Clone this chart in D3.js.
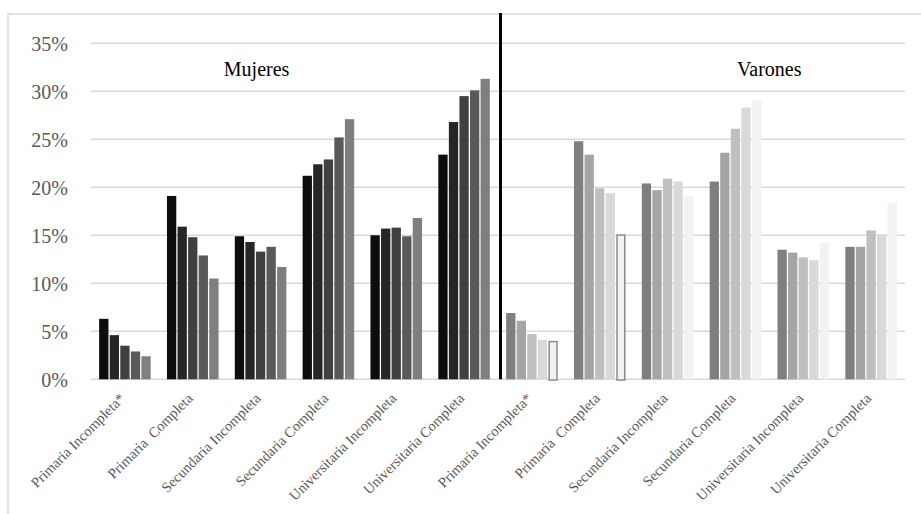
<!DOCTYPE html>
<html>
<head>
<meta charset="utf-8">
<script src="https://cdn.jsdelivr.net/npm/d3@7"></script>
<style>
  body { margin: 0; background: #fff; }
  svg { display: block; }
</style>
</head>
<body>
<div id="chart"></div>
<script>
// categories (shown once for each sex)
const levels = ["Primaria Incompleta*", "Primaria  Completa", "Secundaria Incompleta",
                "Secundaria Completa", "Universitaria Incompleta", "Universitaria Completa"];
const groups = ["Mujeres", "Varones"];
const series = ["s1", "s2", "s3", "s4", "s5"];

// percent values, one row per level, five series each
const mujeres = [
  [6.3, 4.6, 3.5, 2.9, 2.4],
  [19.1, 15.9, 14.8, 12.9, 10.5],
  [14.9, 14.3, 13.3, 13.8, 11.7],
  [21.2, 22.4, 22.9, 25.2, 27.1],
  [15.0, 15.7, 15.8, 14.9, 16.8],
  [23.4, 26.8, 29.5, 30.1, 31.3]
];
const varones = [
  [6.9, 6.1, 4.7, 4.1, 4.0],
  [24.8, 23.4, 19.9, 19.4, 15.1],
  [20.4, 19.7, 20.9, 20.6, 19.1],
  [20.6, 23.6, 26.1, 28.3, 29.1],
  [13.5, 13.2, 12.7, 12.4, 14.2],
  [13.8, 13.8, 15.5, 15.1, 18.4]
];
const yTicks = [0, 5, 10, 15, 20, 25, 30, 35];

// bars drawn with an outline (last series, Varones)
const outlinedLevels = ["Primaria Incompleta*", "Primaria  Completa"];

const colors = {
  Mujeres: ["#0d0d0d", "#262626", "#404040", "#595959", "#7f7f7f"],
  Varones: ["#7f7f7f", "#a5a5a5", "#bfbfbf", "#d9d9d9", "#f2f2f2"]
};

const FONT = '"Liberation Serif", "Times New Roman", serif';
const W = 921, H = 514;
const plot = {left: 91, right: 905, top: 43.3, bottom: 379.3};

// build the flat table
const cats = [];
groups.forEach(g => levels.forEach(l => cats.push(g + "|" + l)));
const rows = [];
groups.forEach(g => {
  const vals = g === "Mujeres" ? mujeres : varones;
  levels.forEach((l, i) => {
    series.forEach((s, j) => {
      rows.push({group: g, level: l, key: g + "|" + l, series: s, idx: j, value: vals[i][j]});
    });
  });
});

const svg = d3.select("#chart").append("svg")
    .attr("width", W)
    .attr("height", H);

// chart border (only top & left show in the window)
svg.append("rect")
    .attr("x", 8).attr("y", 14)
    .attr("width", W + 20).attr("height", H + 20)
    .attr("fill", "none")
    .attr("stroke", "#d9d9d9")
    .attr("stroke-width", 1.5);

const x0 = d3.scaleBand()
    .domain(cats)
    .range([plot.left, plot.right])
    .paddingInner(0.24)
    .paddingOuter(0.12);

const x1 = d3.scaleBand()
    .domain(series)
    .range([0, x0.bandwidth()])
    .paddingInner(0.12);

const y = d3.scaleLinear()
    .domain([0, 35])
    .range([plot.bottom, plot.top]);

// gridlines
svg.append("g")
    .selectAll("line")
    .data(yTicks)
  .enter().append("line")
    .attr("x1", plot.left)
    .attr("x2", plot.right)
    .attr("y1", d => y(d))
    .attr("y2", d => y(d))
    .attr("stroke", "#d9d9d9")
    .attr("stroke-width", 1.5);

// y axis labels
const yAxis = svg.append("g")
    .attr("transform", `translate(${plot.left - 23},0)`)
    .call(d3.axisLeft(y).tickValues(yTicks).tickSize(0).tickPadding(0).tickFormat(d => d + "%"));
yAxis.attr("font-family", null);
yAxis.select(".domain").remove();
yAxis.selectAll("text")
    .style("font-family", FONT)
    .style("font-size", "20px")
    .attr("fill", "#595959")
    .attr("dy", "0.34em");

// bars
svg.append("g")
    .selectAll("rect")
    .data(rows)
  .enter().append("rect")
    .attr("x", d => x0(d.key) + x1(d.series))
    .attr("y", d => y(d.value))
    .attr("width", x1.bandwidth())
    .attr("height", d => y(0) - y(d.value))
    .attr("fill", d => colors[d.group][d.idx]);

// outlined bars
svg.append("g")
    .selectAll("rect")
    .data(rows.filter(d => d.group === "Varones" && d.idx === 4 && outlinedLevels.includes(d.level)))
  .enter().append("rect")
    .attr("x", d => x0(d.key) + x1(d.series) + 0.75)
    .attr("y", d => y(d.value) + 0.75)
    .attr("width", x1.bandwidth() - 1.5)
    .attr("height", d => y(0) - y(d.value))
    .attr("fill", "#f2f2f2")
    .attr("stroke", "#8c8c8c")
    .attr("stroke-width", 1.5);

// divider between the two groups
const divX = x0(cats[levels.length]) - x0.step() * x0.paddingInner() / 2 + 2.5;
svg.append("line")
    .attr("x1", divX).attr("x2", divX)
    .attr("y1", 13).attr("y2", y(0))
    .attr("stroke", "#000")
    .attr("stroke-width", 3);

// category labels
svg.append("g")
    .selectAll("text")
    .data(cats)
  .enter().append("text")
    .attr("transform", d => `translate(${x0(d) + x0.bandwidth() / 2 + 1},${plot.bottom + 20}) rotate(-45)`)
    .attr("text-anchor", "end")
    .attr("fill", "#595959")
    .style("font-family", FONT)
    .style("font-size", "14.5px")
    .text(d => d.split("|")[1].replace(/  /g, " \u00a0"));

// group titles
svg.append("g")
    .selectAll("text")
    .data(groups)
  .enter().append("text")
    .attr("x", (d, i) => i === 0
        ? x0(cats[2]) + x0.bandwidth() / 2 - 4
        : x0(cats[9]) + x0.bandwidth() / 2 + x0.step() / 2)
    .attr("y", 76)
    .attr("text-anchor", "middle")
    .attr("fill", "#000")
    .style("font-family", FONT)
    .style("font-size", "20px")
    .text(d => d);
</script>
</body>
</html>
